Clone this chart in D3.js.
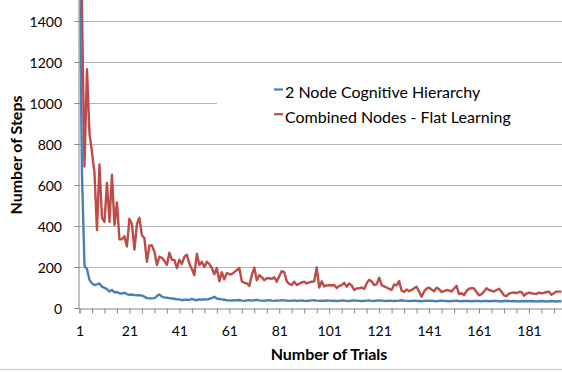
<!DOCTYPE html>
<html>
<head>
<meta charset="utf-8">
<script src="https://cdn.jsdelivr.net/npm/d3@7"></script>
<style>
body { margin: 0; background: #fff; }
text { font-family: Lato, "Open Sans", sans-serif; fill: #000; }
</style>
</head>
<body>
<script>
// values (trials 1..194 are visible, the chart is cut on the right)
var hierarchy = [
  1700, 650, 205, 190, 137, 120, 112, 115, 120, 104,
  98, 92, 80, 88, 76, 78, 72, 70, 75, 68,
  64, 66, 63, 62, 63, 60, 55, 48, 47, 47,
  48, 58, 66, 55, 52, 50, 48, 46, 45, 42,
  42, 38, 40, 41, 39, 44, 40, 38, 42, 40,
  43, 41, 45, 48, 55, 46, 44, 42, 40, 38,
  37, 36, 38, 37, 39, 36, 35, 37, 38, 36,
  38, 40, 37, 36, 35, 37, 38, 36, 35, 37,
  36, 38, 37, 36, 35, 36, 37, 35, 36, 37,
  35, 34, 36, 37, 38, 36, 35, 36, 35, 37,
  36, 35, 36, 34, 35, 37, 36, 35, 34, 36,
  37, 36, 35, 34, 35, 36, 37, 35, 34, 36,
  37, 36, 35, 34, 36, 35, 34, 35, 36, 38,
  36, 35, 34, 35, 36, 35, 34, 33, 35, 36,
  35, 36, 34, 33, 35, 36, 35, 34, 33, 34,
  35, 36, 34, 33, 34, 35, 34, 33, 34, 35,
  34, 33, 35, 34, 33, 34, 35, 34, 33, 32,
  34, 35, 34, 33, 34, 33, 32, 34, 33, 34,
  33, 34, 33, 32, 33, 34, 33, 32, 33, 34,
  33, 32, 33, 33
];
var flat = [
  2400, 1450, 690, 1165, 850, 760, 660, 380, 700, 440,
  420, 610, 420, 650, 405, 515, 335, 335, 350, 300,
  435, 410, 285, 410, 440, 355, 340, 225, 305, 305,
  275, 210, 250, 245, 230, 210, 270, 235, 235, 195,
  235, 215, 250, 260, 215, 190, 160, 265, 210, 225,
  200, 225, 215, 195, 165, 195, 130, 175, 140, 170,
  165, 165, 175, 185, 195, 130, 123, 120, 108, 160,
  197, 135, 160, 150, 135, 145, 145, 142, 150, 128,
  155, 180, 175, 130, 118, 112, 128, 112, 118, 125,
  128, 120, 125, 128, 130, 198, 100, 130, 105, 110,
  112, 110, 112, 97, 108, 112, 123, 104, 120, 110,
  88, 95, 96, 100, 93, 120, 137, 130, 112, 115,
  148, 112, 105, 100, 93, 88, 115, 110, 131, 85,
  78, 90, 82, 88, 96, 104, 80, 55, 80, 95,
  99, 90, 82, 99, 92, 78, 82, 88, 86, 80,
  95, 108, 68, 72, 63, 83, 94, 97, 95, 78,
  62, 68, 80, 96, 88, 85, 80, 88, 94, 80,
  62, 58, 70, 74, 76, 72, 78, 78, 60, 70,
  75, 72, 70, 68, 75, 72, 74, 78, 80, 65,
  72, 80, 80, 80
];
var trials = d3.range(1, 201);          // category axis 1..200
var stepTicks = [0, 200, 400, 600, 800, 1000, 1200, 1400];
var seriesNames = ["2 Node Cognitive Hierarchy", "Combined Nodes - Flat Learning"];
var seriesColors = ["#4a7ebb", "#be4b48"];

var W = 562, H = 372;
var left = 79.5, bottom = 308;

var svg = d3.select("body").append("svg")
  .attr("width", W)
  .attr("height", H);

// scales (axis goes on past 1400, the top is cut off in the picture)
var xScale = d3.scalePoint().domain(trials).range([left, left + 199 * 2.497]);
var yScale = d3.scaleLinear().domain([0, 1600]).range([bottom, bottom - 41 * 8]);

// gridlines
svg.append("g")
  .selectAll("line")
  .data(stepTicks.slice(1))
  .enter().append("line")
  .attr("x1", left).attr("x2", W)
  .attr("y1", function(d) { return Math.round(yScale(d)) + 0.5; })
  .attr("y2", function(d) { return Math.round(yScale(d)) + 0.5; })
  .style("stroke", "#b3b3b3")
  .style("stroke-width", 1);

// clip for the plot
svg.append("clipPath").attr("id", "plot")
  .append("rect").attr("x", left).attr("y", -30).attr("width", W - left).attr("height", bottom + 30);

var line = d3.line()
  .x(function(d, i) { return xScale(trials[i]); })
  .y(function(d) { return yScale(d); });

var plot = svg.append("g").attr("clip-path", "url(#plot)");
[hierarchy, flat].forEach(function(s, k) {
  plot.append("path")
    .datum(s)
    .attr("d", line)
    .style("fill", "none")
    .style("stroke", seriesColors[k])
    .style("stroke-width", 2.4)
    .style("stroke-linejoin", "round");
});

// y axis
var yAxis = d3.axisLeft(yScale).tickValues(stepTicks).tickFormat(d3.format("d"))
  .tickSize(5).tickPadding(12.5);
var gy = svg.append("g")
  .attr("transform", "translate(" + left + ",0)")
  .call(yAxis);
gy.select(".domain").attr("d", "M-0.5,0V" + (bottom + 0.5));
gy.selectAll("path, line").style("stroke", "#868686");
gy.selectAll("text").style("font-size", "14px").style("font-family", "Lato, sans-serif").attr("dy", "0.36em");

// x axis, ticks every 5 trials, labels every 20
var xAxis = d3.axisBottom(xScale)
  .tickValues(trials.filter(function(t) { return (t - 1) % 5 === 0; }))
  .tickFormat(function(t) { return (t - 1) % 20 === 0 ? t : ""; })
  .tickSize(5).tickPadding(13);
var gx = svg.append("g")
  .attr("transform", "translate(0," + (bottom + 0.5) + ")")
  .call(xAxis);
gx.selectAll("path, line").style("stroke", "#868686");
gx.selectAll("text").style("font-size", "14px").style("font-family", "Lato, sans-serif");

// legend (white box over the gridlines)
svg.append("rect")
  .attr("x", 217).attr("y", 63).attr("width", W - 217).attr("height", 80)
  .style("fill", "#fff");
var legend = svg.append("g");
seriesNames.forEach(function(name, k) {
  var y = 89.5 + k * 24.7;
  legend.append("line")
    .attr("x1", 274).attr("x2", 283)
    .attr("y1", y).attr("y2", y)
    .style("stroke", seriesColors[k]).style("stroke-width", 2.25);
  legend.append("text")
    .attr("x", 285).attr("y", y + 8.3)
    .style("font-size", "16px")
    .text(name);
});

// axis titles
svg.append("text")
  .attr("x", 329).attr("y", 359.5)
  .attr("text-anchor", "middle")
  .style("font-size", "16px").style("font-weight", "bold")
  .text("Number of Trials");
svg.append("text")
  .attr("transform", "translate(22,155) rotate(-90)")
  .attr("text-anchor", "middle")
  .style("font-size", "16px").style("font-weight", "bold")
  .text("Number of Steps");

// chart border at the bottom
svg.append("line")
  .attr("x1", 0).attr("x2", W).attr("y1", 369.5).attr("y2", 369.5)
  .style("stroke", "#d4d4d4").style("stroke-width", 1.5);
</script>
</body>
</html>
